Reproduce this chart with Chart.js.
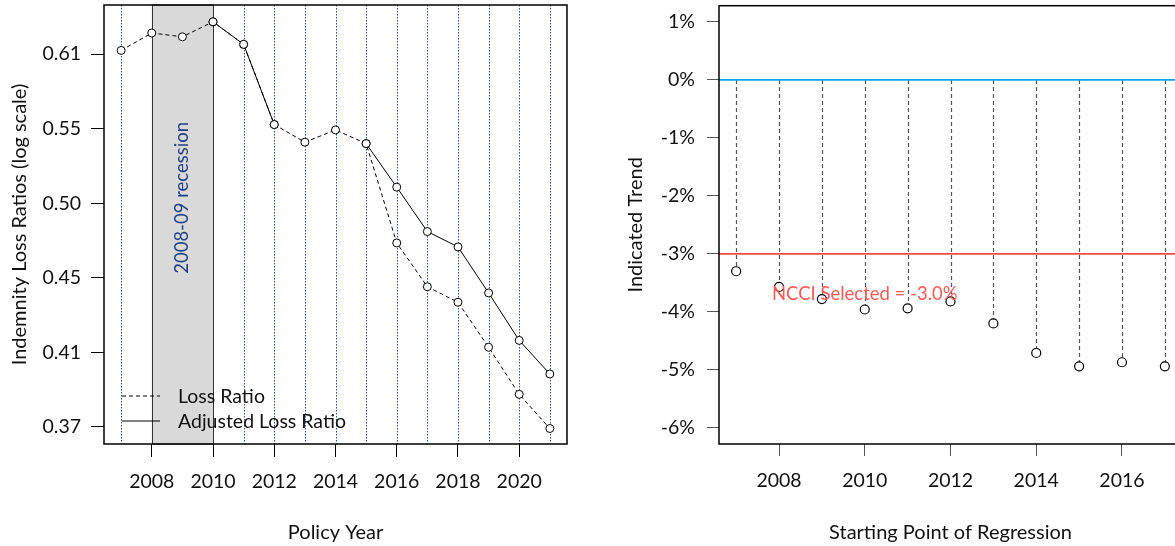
<!DOCTYPE html>
<html>
<head>
<meta charset="utf-8">
<script src="https://cdn.jsdelivr.net/npm/chart.js@4.4.1/dist/chart.umd.min.js"></script>
<style>
  html, body { margin: 0; padding: 0; background: #fff; }
  body { width: 1175px; height: 546px; overflow: hidden; position: relative; }
  #wrapL { position: absolute; left: 0; top: 0; width: 590px; height: 546px; }
  #wrapR { position: absolute; left: 590px; top: 0; width: 610px; height: 546px; }
</style>
</head>
<body>
<div id="wrapL"><canvas id="lossChart"></canvas></div>
<div id="wrapR"><canvas id="trendChart"></canvas></div>
<script>
// left panel data
const policyYears = [2007, 2008, 2009, 2010, 2011, 2012, 2013, 2014, 2015, 2016, 2017, 2018, 2019, 2020, 2021];
const lossRatio = [0.613, 0.6275, 0.6243, 0.637, 0.618, 0.555, 0.542, 0.551, 0.541, 0.4735, 0.4465, 0.4373, 0.4117, 0.3865, 0.3692];
const adjustedLossRatio = [null, null, null, 0.637, 0.618, 0.555, null, null, 0.541, 0.5103, 0.4808, 0.471, 0.4428, 0.4155, 0.3972];
const lossTickValues = [0.61, 0.552, 0.4994, 0.4519, 0.4089, 0.37];
const lossTickLabels = ['0.61', '0.55', '0.50', '0.45', '0.41', '0.37'];
const policyTickYears = [2008, 2010, 2012, 2014, 2016, 2018, 2020];
const recessionYears = [2008, 2010];
const recessionLabel = '2008-09 recession';

// right panel data
const startYears = [2007, 2008, 2009, 2010, 2011, 2012, 2013, 2014, 2015, 2016, 2017];
const indicatedTrend = [-3.30, -3.57, -3.78, -3.96, -3.94, -3.82, -4.20, -4.71, -4.94, -4.87, -4.94];
const trendTickValues = [1, 0, -1, -2, -3, -4, -5, -6];
const startTickYears = [2008, 2010, 2012, 2014, 2016];
const ncciSelected = -3.0;

const FAMILY = "Lato, 'Open Sans', sans-serif";
Chart.defaults.font.family = FAMILY;
Chart.defaults.color = '#111';

const FONT_TICK = 19.5;
const FONT_TITLE = 20;

// no extra room for tick label overflow, the plot box is placed by hand
function fixBox(size, key) {
    return s => {
        s[key] = size;
        s.paddingTop = 0; s.paddingBottom = 0; s.paddingLeft = 0; s.paddingRight = 0;
    };
}

// shaded recession band, dotted year lines, box and legend for the left chart
const lossDecor = {
    id: 'lossDecor',
    beforeDatasetsDraw(chart) {
        const { ctx, chartArea: a, scales: { x, y } } = chart;
        ctx.save();
        ctx.strokeStyle = '#2b4f9e';
        ctx.lineWidth = 1;
        ctx.setLineDash([1.5, 1.5]);
        policyYears.forEach(yr => {
            const px = Math.round(x.getPixelForValue(yr)) + 0.5;
            ctx.beginPath();
            ctx.moveTo(px, a.top);
            ctx.lineTo(px, a.bottom);
            ctx.stroke();
        });
        ctx.setLineDash([]);
        const x0 = x.getPixelForValue(recessionYears[0]);
        const x1 = x.getPixelForValue(recessionYears[1]);
        ctx.fillStyle = '#d9d9d9';
        ctx.fillRect(x0, a.top, x1 - x0, a.bottom - a.top);
        ctx.strokeStyle = '#333';
        ctx.strokeRect(Math.round(x0) + 0.5, a.top, Math.round(x1 - x0), a.bottom - a.top);
        // label
        ctx.translate((x0 + x1) / 2, y.getPixelForValue(0.503));
        ctx.rotate(-Math.PI / 2);
        ctx.fillStyle = '#1f3f86';
        ctx.font = '18.5px ' + FAMILY;
        ctx.textAlign = 'center';
        ctx.textBaseline = 'middle';
        ctx.fillText(recessionLabel, 0, 0);
        ctx.restore();
    },
    afterDraw(chart) {
        const { ctx, chartArea: a } = chart;
        ctx.save();
        ctx.strokeStyle = '#000';
        ctx.lineWidth = 1.5;
        ctx.strokeRect(a.left, a.top, a.right - a.left, a.bottom - a.top);
        // legend
        const lx = a.left + 18, ly = a.bottom - 48;
        ctx.font = '19.5px ' + FAMILY;
        ctx.textBaseline = 'middle';
        ctx.fillStyle = '#111';
        chart.data.datasets.forEach((ds, i) => {
            const yy = ly + i * 25;
            ctx.strokeStyle = '#000';
            ctx.lineWidth = 1;
            ctx.setLineDash(ds.borderDash || []);
            ctx.beginPath();
            ctx.moveTo(lx, yy);
            ctx.lineTo(lx + 38, yy);
            ctx.stroke();
            ctx.setLineDash([]);
            ctx.fillText(ds.label, lx + 56, yy + 1);
        });
        ctx.restore();
    }
};

new Chart(document.getElementById('lossChart'), {
    type: 'line',
    data: {
        datasets: [{
            label: 'Loss Ratio',
            data: policyYears.map((yr, i) => ({ x: yr, y: lossRatio[i] })),
            borderColor: '#000',
            borderWidth: 1,
            borderDash: [4, 3],
            pointRadius: 4,
            pointBorderWidth: 1,
            pointBorderColor: '#000',
            pointBackgroundColor: '#fff',
            tension: 0
        }, {
            label: 'Adjusted Loss Ratio',
            data: policyYears.map((yr, i) => ({ x: yr, y: adjustedLossRatio[i] })),
            borderColor: '#000',
            borderWidth: 1,
            pointRadius: 4,
            pointBorderWidth: 1,
            pointBorderColor: '#000',
            pointBackgroundColor: '#fff',
            spanGaps: false,
            tension: 0
        }]
    },
    options: {
        responsive: true,
        maintainAspectRatio: false,
        animation: false,
        devicePixelRatio: 1,
        layout: { padding: { left: 0, top: 5, right: 23, bottom: 0 } },
        plugins: { legend: { display: false }, tooltip: { enabled: false } },
        scales: {
            x: {
                type: 'linear',
                min: 2006.44,
                max: 2021.56,
                afterFit: fixBox(102, 'height'),
                afterBuildTicks: s => { s.ticks = policyTickYears.map(v => ({ value: v })); },
                grid: { drawOnChartArea: false, drawTicks: true, tickLength: 13, color: '#000' },
                border: { display: false },
                ticks: { padding: 13, autoSkip: false, maxRotation: 0, font: { size: FONT_TICK }, callback: v => String(v) },
                title: { display: true, text: 'Policy Year', font: { size: FONT_TITLE }, padding: { top: 0, bottom: 1 } }
            },
            y: {
                type: 'logarithmic',
                min: 0.3616,
                max: 0.6515,
                afterFit: fixBox(104, 'width'),
                afterBuildTicks: s => { s.ticks = lossTickValues.map(v => ({ value: v })); },
                grid: { drawOnChartArea: false, drawTicks: true, tickLength: 13, color: '#000' },
                border: { display: false },
                ticks: { padding: 10, autoSkip: false, font: { size: FONT_TICK }, callback: (v, i) => lossTickLabels[i] },
                title: { display: true, text: 'Indemnity Loss Ratios (log scale)', font: { size: FONT_TITLE }, padding: { top: 8, bottom: 0 } }
            }
        }
    },
    plugins: [lossDecor]
});

// reference lines, stems and label for the right chart
const trendDecor = {
    id: 'trendDecor',
    beforeDatasetsDraw(chart) {
        const { ctx, chartArea: a, scales: { x, y } } = chart;
        ctx.save();
        ctx.strokeStyle = '#555';
        ctx.lineWidth = 1.2;
        ctx.setLineDash([4, 3]);
        startYears.forEach((yr, i) => {
            const px = Math.round(x.getPixelForValue(yr)) + 0.5;
            ctx.beginPath();
            ctx.moveTo(px, y.getPixelForValue(0));
            ctx.lineTo(px, y.getPixelForValue(indicatedTrend[i]) - 4);
            ctx.stroke();
        });
        ctx.setLineDash([]);
        ctx.lineWidth = 1.6;
        ctx.strokeStyle = '#08a8ee';
        let py = y.getPixelForValue(0);
        ctx.beginPath(); ctx.moveTo(a.left, py); ctx.lineTo(a.right, py); ctx.stroke();
        ctx.strokeStyle = '#f44a44';
        py = y.getPixelForValue(ncciSelected);
        ctx.beginPath(); ctx.moveTo(a.left, py); ctx.lineTo(a.right, py); ctx.stroke();
        ctx.restore();
    },
    afterDatasetsDraw(chart) {
        const { ctx, scales: { x, y } } = chart;
        ctx.save();
        ctx.fillStyle = '#ff5a55';
        ctx.font = '18.5px ' + FAMILY;
        ctx.textAlign = 'center';
        ctx.textBaseline = 'middle';
        ctx.fillText('NCCI Selected = ' + ncciSelected.toFixed(1) + '%', x.getPixelForValue(2010), y.getPixelForValue(-3.7));
        ctx.restore();
    },
    afterDraw(chart) {
        const { ctx, chartArea: a } = chart;
        ctx.save();
        ctx.strokeStyle = '#000';
        ctx.lineWidth = 1.5;
        ctx.strokeRect(a.left, a.top, a.right - a.left, a.bottom - a.top);
        ctx.restore();
    }
};

new Chart(document.getElementById('trendChart'), {
    type: 'scatter',
    data: {
        datasets: [{
            label: 'Indicated Trend',
            data: startYears.map((yr, i) => ({ x: yr, y: indicatedTrend[i] })),
            pointRadius: 4.5,
            pointBorderWidth: 1.2,
            pointBorderColor: '#000',
            pointBackgroundColor: 'rgba(255,255,255,0)'
        }]
    },
    options: {
        responsive: true,
        maintainAspectRatio: false,
        animation: false,
        devicePixelRatio: 1,
        layout: { padding: { left: 0, top: 5, right: 18, bottom: 0 } },
        plugins: { legend: { display: false }, tooltip: { enabled: false } },
        scales: {
            x: {
                type: 'linear',
                min: 2006.6,
                max: 2017.4,
                afterFit: fixBox(102, 'height'),
                afterBuildTicks: s => { s.ticks = startTickYears.map(v => ({ value: v })); },
                grid: { drawOnChartArea: false, drawTicks: true, tickLength: 12, color: '#555' },
                border: { display: false },
                ticks: { padding: 13, autoSkip: false, maxRotation: 0, font: { size: FONT_TICK }, callback: v => String(v) },
                title: { display: true, text: 'Starting Point of Regression', font: { size: FONT_TITLE }, padding: { top: 0, bottom: 1 } }
            },
            y: {
                type: 'linear',
                min: -6.28,
                max: 1.28,
                afterFit: fixBox(129, 'width'),
                afterBuildTicks: s => { s.ticks = trendTickValues.map(v => ({ value: v })); },
                grid: { drawOnChartArea: false, drawTicks: true, tickLength: 12, color: '#555' },
                border: { display: false },
                ticks: { padding: 12, autoSkip: false, font: { size: FONT_TICK }, callback: v => v + '%' },
                title: { display: true, text: 'Indicated Trend', font: { size: FONT_TITLE }, padding: { top: 34, bottom: 0 } }
            }
        }
    },
    plugins: [trendDecor]
});
</script>
</body>
</html>
